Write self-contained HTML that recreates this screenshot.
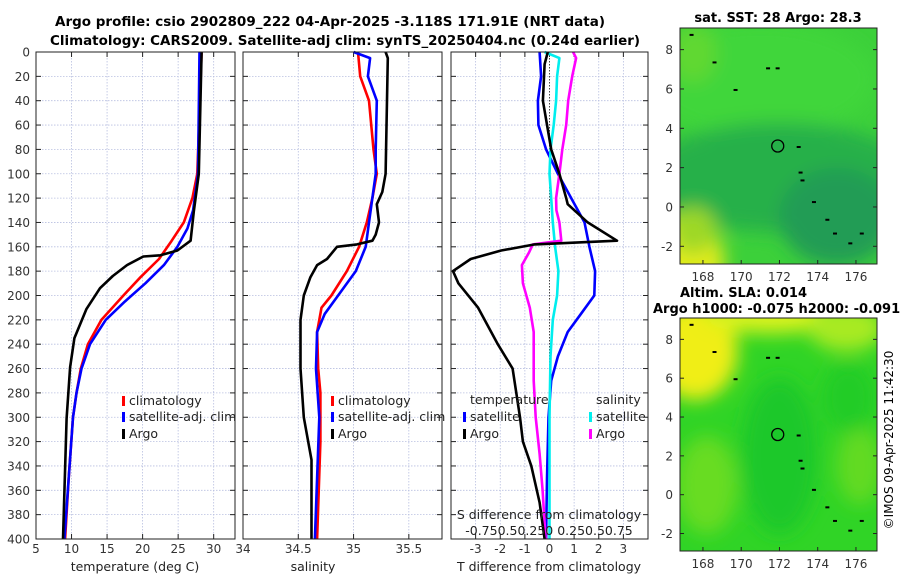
<!DOCTYPE html>
<html><head><meta charset="utf-8"><style>
html,body{margin:0;padding:0;background:#fff;}
svg{display:block;font-family:"DejaVu Sans","Liberation Sans",sans-serif;}
</style></head><body>
<svg id="fig" width="900" height="580" viewBox="0 0 900 580" xmlns="http://www.w3.org/2000/svg">
<defs>
<filter id="blur" x="-20%" y="-20%" width="140%" height="140%"><feGaussianBlur stdDeviation="9"/></filter>
<clipPath id="clipTop"><rect x="680" y="28" width="197" height="236"/></clipPath>
<clipPath id="clipBot"><rect x="680" y="318" width="197" height="233"/></clipPath>
</defs>
<text x="55" y="26" font-size="13" font-weight="bold" textLength="550" lengthAdjust="spacingAndGlyphs">Argo profile: csio 2902809_222 04-Apr-2025 -3.118S 171.91E (NRT data)</text>
<text x="50" y="45" font-size="13" font-weight="bold" textLength="590" lengthAdjust="spacingAndGlyphs">Climatology: CARS2009. Satellite-adj clim: synTS_20250404.nc (0.24d earlier)</text>
<g id="plots"></g>
<g id="maps"></g>
<text transform="translate(893,440) rotate(-90)" text-anchor="middle" font-size="12">©IMOS 09-Apr-2025 11:42:30</text>
</svg>
<script>
// ---- data ----
const depthTicks = [0,20,40,60,80,100,120,140,160,180,200,220,240,260,280,300,320,340,360,380,400];
const tempTicks = [5,10,15,20,25,30];
const salTicks = [34,34.5,35,35.5];
const tdiffTicks = [-3,-2,-1,0,1,2,3];
const lonTicks = [168,170,172,174,176];
const latTicks = [-2,0,2,4,6,8];

const tArgoDepth = [0,100,131,155,163,167,168,175,184,194,211,235,259,301,400];
const tArgoVal   = [28.3,27.9,27.2,26.75,24.9,22.5,20.1,17.8,15.8,14.0,12.1,10.4,9.8,9.3,8.8];
const tClimDepth = [0,100,120,140,155,170,185,200,220,240,260,280,300,350,400];
const tClimVal   = [28.3,27.7,27.0,25.8,24.1,22.3,19.7,17.3,14.2,12.3,11.3,10.7,10.2,9.6,9.1];
const tSatDepth  = [0,100,130,145,160,175,190,205,220,240,260,280,300,350,400];
const tSatVal    = [28.0,27.8,27.1,26.3,24.9,23.0,20.4,17.5,14.8,12.6,11.4,10.7,10.2,9.6,9.0];

const sArgoDepth = [0,5,100,115,125,140,150,155,158,160,170,175,185,200,220,260,300,335,400];
const sArgoVal   = [35.29,35.31,35.29,35.26,35.21,35.23,35.20,35.17,35.03,34.85,34.76,34.67,34.61,34.55,34.52,34.52,34.55,34.62,34.62];
const sClimDepth = [0,20,40,80,100,120,140,160,180,200,210,230,260,280,320,400];
const sClimVal   = [35.04,35.06,35.14,35.18,35.21,35.17,35.12,35.05,34.94,34.80,34.71,34.67,34.68,34.70,34.70,34.67];
const sSatDepth  = [0,5,20,40,80,100,140,160,180,200,215,230,260,300,400];
const sSatVal    = [35.0,35.15,35.13,35.21,35.20,35.20,35.14,35.11,35.02,34.86,34.74,34.67,34.66,34.69,34.65];

const dTArgoDepth = [0,10,40,80,100,120,125,140,155,158,163,170,180,190,210,240,260,280,300,320,340,370,400];
const dTArgoVal   = [-0.07,-0.2,-0.27,0.07,0.4,0.68,0.74,1.55,2.74,-0.6,-1.96,-3.2,-3.92,-3.7,-2.9,-2.1,-1.5,-1.35,-1.2,-1.08,-0.74,-0.4,-0.2];
const dTSatDepth  = [0,20,40,60,80,100,120,140,160,180,200,215,230,250,270,300,350,400];
const dTSatVal    = [-0.4,-0.34,-0.47,-0.45,-0.14,0.34,0.88,1.42,1.62,1.85,1.82,1.28,0.74,0.34,0.07,-0.04,-0.1,-0.14];
const dSSatDepth  = [0,5,20,40,60,80,100,120,140,160,180,200,220,250,300,400];
const dSSatVal    = [-0.05,0.1,0.077,0.067,0.043,0.01,0,0.017,0.033,0.057,0.09,0.077,0.033,0.01,0,0];
const dSArgoDepth = [0,5,20,40,60,80,100,120,130,140,155,158,165,175,190,210,230,270,300,330,360,400];
const dSArgoVal   = [0.24,0.27,0.23,0.19,0.17,0.13,0.10,0.067,0.07,0.1,0.12,-0.17,-0.21,-0.28,-0.27,-0.2,-0.16,-0.16,-0.14,-0.1,-0.07,-0.04];

const argoLon = [171.91];
const argoLat = [3.1];

// ---- helpers ----
const NS = "http://www.w3.org/2000/svg";
const plots = document.getElementById('plots');
function mk(tag, attrs, parent){const e=document.createElementNS(NS,tag);for(const k in attrs)e.setAttribute(k,attrs[k]);(parent||plots).appendChild(e);return e;}
const TOP=52, BOT=539;
const yD = d => TOP + d/400*(BOT-TOP);
function xScale(x0,x1,v0,v1){return v => x0 + (v-v0)/(v1-v0)*(x1-x0);}

const panels = [
 {name:'temperature-panel', x0:36, x1:235, v0:5, v1:33, ticks:tempTicks, label:'temperature (deg C)', lx:135},
 {name:'salinity-panel', x0:243, x1:442, v0:34, v1:35.8, ticks:salTicks, label:'salinity', lx:313},
 {name:'difference-panel', x0:451, x1:648, v0:-4, v1:4, ticks:tdiffTicks, label:'T difference from climatology', lx:549},
];
panels.forEach((p,i)=>{
  p.xs = xScale(p.x0,p.x1,p.v0,p.v1);
  const g = mk('g',{});
  
  
  p.g = g;
  depthTicks.forEach(d=>{
    const l=mk('line',{x1:p.x0,x2:p.x1,y1:yD(d),y2:yD(d),stroke:'#b8bfe0','stroke-width':0.8,'stroke-dasharray':'1.5,1.5'},g);
    
    
    mk('line',{x1:p.x0,x2:p.x0+5,y1:yD(d),y2:yD(d),stroke:'#222'},g);
    mk('line',{x1:p.x1-5,x2:p.x1,y1:yD(d),y2:yD(d),stroke:'#222'},g);
  });
  p.ticks.forEach(v=>{
    const x=p.xs(v);
    const l=mk('line',{x1:x,x2:x,y1:TOP,y2:BOT,stroke:'#b8bfe0','stroke-width':0.8,'stroke-dasharray':'1.5,1.5'},g);
    
    
    mk('line',{x1:x,x2:x,y1:BOT-5,y2:BOT,stroke:'#222'},g);
    mk('line',{x1:x,x2:x,y1:TOP,y2:TOP+5,stroke:'#222'},g);
    const t=mk('text',{x:x,y:553,'font-size':12,'text-anchor':'middle',fill:'#333'},g);
    t.textContent = String(v);
    
    
  });
  const xl=mk('text',{x:p.lx,y:571,'font-size':12.5,'text-anchor':'middle',fill:'#222'},g);
  xl.textContent=p.label;
  
  
});

depthTicks.forEach(d=>{
  const t=mk('text',{x:30,y:yD(d)+4.5,'font-size':12,'text-anchor':'end',fill:'#333'});
  t.textContent=String(d);
  
  
});

function series(p, depths, vals, color, name, xs){
  const f = xs || p.xs;
  const pts = depths.map((d,i)=>f(vals[i]).toFixed(1)+','+yD(d).toFixed(1)).join(' ');
  const e=mk('polyline',{points:pts,fill:'none',stroke:color,'stroke-width':2.6,'stroke-linejoin':'round'},p.g);
  
  
}
const [P1,P2,P3]=panels;
series(P1,tClimDepth,tClimVal,'#ff0000','temp-climatology-line');
series(P1,tSatDepth,tSatVal,'#0000ff','temp-satellite-line');
series(P1,tArgoDepth,tArgoVal,'#000000','temp-argo-line');
series(P2,sClimDepth,sClimVal,'#ff0000','sal-climatology-line');
series(P2,sSatDepth,sSatVal,'#0000ff','sal-satellite-line');
series(P2,sArgoDepth,sArgoVal,'#000000','sal-argo-line');
const zx=P3.xs(0);
const z=mk('line',{x1:zx,x2:zx,y1:TOP,y2:BOT,stroke:'#444','stroke-width':1,'stroke-dasharray':'1.5,1.5'},P3.g);


const sxs = xScale(P3.x0,P3.x1,-1,1);
series(P3,dTSatDepth,dTSatVal,'#0000ff','tdiff-satellite-line');
series(P3,dSSatDepth,dSSatVal,'#00eeee','sdiff-satellite-line',sxs);
series(P3,dSArgoDepth,dSArgoVal,'#ff00ff','sdiff-argo-line',sxs);
series(P3,dTArgoDepth,dTArgoVal,'#000000','tdiff-argo-line');

panels.forEach(p=>{
  const r=mk('rect',{x:p.x0,y:TOP,width:p.x1-p.x0,height:BOT-TOP,fill:'none',stroke:'#222','stroke-width':1},p.g);
  
  
});

function legendEntry(x,y,color,label,g){
  const grp=mk('g',{},g);
  
  
  mk('rect',{x:x,y:y-9,width:3,height:10,fill:color},grp);
  const t=mk('text',{x:x+7,y:y,'font-size':12.5,fill:'#222'},grp);
  t.textContent=label;
}
[[P1,122],[P2,331]].forEach(([p,x])=>{
  legendEntry(x,405,'#ff0000','climatology',p.g);
  legendEntry(x,421,'#0000ff','satellite-adj. clim',p.g);
  legendEntry(x,438,'#000000','Argo',p.g);
});
const th=mk('text',{x:470,y:404,'font-size':12.5,fill:'#222'},P3.g);th.textContent='temperature';


const sh=mk('text',{x:596,y:404,'font-size':12.5,fill:'#222'},P3.g);sh.textContent='salinity';


legendEntry(463,421,'#0000ff','satellite',P3.g);
legendEntry(463,438,'#000000','Argo',P3.g);
legendEntry(589,421,'#00eeee','satellite',P3.g);
legendEntry(589,438,'#ff00ff','Argo',P3.g);
const s1=mk('text',{x:549,y:519,'font-size':12.5,'text-anchor':'middle',fill:'#222'},P3.g);s1.textContent='S difference from climatology';


const s2=mk('text',{x:549,y:535,'font-size':12.5,'text-anchor':'middle',fill:'#222'},P3.g);s2.textContent='-0.750.50.250  0.250.50.75';



// ---- maps ----
const maps=document.getElementById('maps');
function mm(tag,attrs,parent){const e=document.createElementNS(NS,tag);for(const k in attrs)e.setAttribute(k,attrs[k]);(parent||maps).appendChild(e);return e;}
function drawMap(y0,y1,clip,name,blobs,base){
  const g=mm('g',{});
  
  
  const lx=xScale(680,877,166.8,177.1), ly=xScale(y1,y0,-2.9,9.1);
  const inner=mm('g',{'clip-path':'url(#'+clip+')'},g);
  mm('rect',{x:680,y:y0,width:197,height:y1-y0,fill:base},inner);
  const bg=mm('g',{filter:'url(#blur)'},inner);
  blobs.forEach(b=>mm('ellipse',{cx:lx(b[0]),cy:ly(b[1]),rx:b[2]*19.3,ry:b[3]*19.6,fill:b[4]},bg));
  mm('rect',{x:680,y:y0,width:197,height:y1-y0,fill:'none',stroke:'#222'},g);
  lonTicks.forEach(v=>{
    const x=lx(v);
    mm('line',{x1:x,x2:x,y1:y1-4,y2:y1,stroke:'#222'},g);
    const t=mm('text',{x:x,y:y1+17,'font-size':12,'text-anchor':'middle',fill:'#333'},g);t.textContent=String(v);
    
    
  });
  latTicks.forEach(v=>{
    const y=ly(v);
    mm('line',{x1:680,x2:684,y1:y,y2:y,stroke:'#222'},g);
    mm('line',{x1:873,x2:877,y1:y,y2:y,stroke:'#222'},g);
    const t=mm('text',{x:673,y:y+4.5,'font-size':12,'text-anchor':'end',fill:'#333'},g);t.textContent=String(v);
    
    
  });
  const c=mm('circle',{cx:lx(argoLon[0]),cy:ly(argoLat[0]),r:6,fill:'none',stroke:'#000','stroke-width':1.3},g);
  
  
  [[167.3,8.8],[168.5,7.4],[169.6,6],[171.3,7.1],[171.8,7.1],[172.9,3.1],[173,1.8],[173.1,1.4],[173.7,0.3],[174.4,-0.6],[174.8,-1.3],[175.6,-1.8],[176.2,-1.3]].forEach(s=>{
    mm('rect',{x:lx(s[0]),y:ly(s[1]),width:4,height:2,fill:'#000'},inner);
  });
}
drawMap(28,264,'clipTop','sst-map',[
  [171,6.5,6,3,'#3fd63a'],[172,1.5,7,2.8,'#25b04a'],[175,-0.5,3,2.5,'#229c55'],
  [166.8,-2.8,2.3,2.4,'#e2ec1c'],[167.5,-1.2,1.2,1.2,'#9ed826'],[167.5,7.8,1.2,1.5,'#60d830']
],'#3cd03a');
drawMap(318,551,'clipBot','sla-map',[
  [167.6,7.4,2.2,2.5,'#f0ee18'],[171.5,9.2,3.5,0.9,'#d8f21a'],[175.5,8.6,2,1.2,'#a8ea20'],
  [168.2,0.5,1.6,2.5,'#68dc24'],[176.2,1.5,1.2,2,'#62da24'],[172,2,2,4,'#1fc82a'],[175.6,5,1.4,1.8,'#22cc28']
],'#30d426');
const t1=mm('text',{x:778,y:22,'font-size':13,'font-weight':'bold','text-anchor':'middle'});t1.textContent='sat. SST: 28 Argo: 28.3';


const t2=mm('text',{x:680,y:297,'font-size':13,'font-weight':'bold'});t2.textContent='Altim. SLA: 0.014';


const t3=mm('text',{x:653,y:313,'font-size':13,'font-weight':'bold'});t3.textContent='Argo h1000: -0.075 h2000: -0.091';


</script>
</body></html>
